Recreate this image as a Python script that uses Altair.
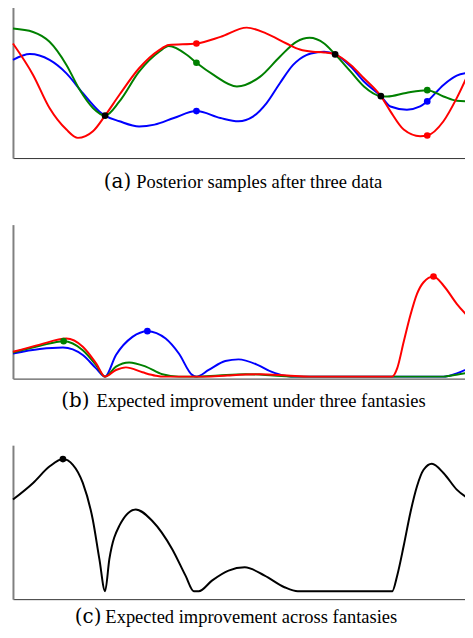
import altair as alt
import pandas as pd

# ---------------- Panel (a): posterior samples after three data ----------------
a_x_blue = [0, 3.7, 8.0, 11.7, 15.3, 18.9, 20.15, 23.3, 27.6, 31.0, 35.2, 40.15, 45.4, 49.35,
            52.6, 55.5, 58.4, 61.3, 64.2, 65.2, 68.1, 70.5, 73.9, 76.8, 80.5, 82.6, 86.2,
            89.1, 90.65, 94.2, 97.1, 100]
a_y_blue = [63.7, 67.5, 63.7, 55.0, 42.1, 30.3, 27.55, 23.9, 20.5, 21.7, 26.0, 30.5, 26.0, 23.9,
            27.1, 35.7, 48.6, 60.5, 66.9, 67.9, 69.0, 67.3, 59.4, 49.7, 40.2, 33.5, 31.4,
            33.5, 36.8, 47.5, 53.5, 55.5]

a_x_green = [0, 4.4, 8.0, 11.7, 14.6, 17.5, 20.15, 23.3, 27.6, 32.0, 34.1, 38.1, 40.15, 43.9,
             49.0, 54.1, 58.4, 62.0, 64.9, 68.1, 70.5, 73.9, 76.8, 80.5, 81.9, 86.0, 90.65,
             94.2, 97.1, 100]
a_y_green = [84.1, 81.9, 75.5, 60.5, 44.3, 32.5, 27.55, 36.8, 56.1, 69.0, 72.7, 66.9, 61.9, 54.0,
             46.5, 52.9, 65.8, 75.5, 78.1, 74.4, 67.3, 56.1, 46.5, 40.2, 40.0, 42.3, 44.1,
             40.0, 37.2, 36.8]

a_x_red = [0, 4.4, 8.0, 11.7, 14.2, 17.5, 20.15, 23.3, 27.6, 32.0, 34.1, 40.15, 45.4, 51.15,
           55.5, 59.85, 62.8, 65.6, 68.1, 70.5, 73.9, 76.8, 80.5, 82.6, 85.5, 89.1, 90.65,
           94.2, 97.1, 100]
a_y_red = [74.4, 54.0, 32.5, 18.5, 13.1, 17.4, 27.55, 41.1, 58.3, 70.1, 73.4, 74.4, 78.7, 84.7,
           80.8, 74.4, 70.5, 69.0, 68.6, 67.3, 60.5, 51.8, 40.2, 30.3, 18.5, 14.2, 14.65,
           23.9, 38.9, 57.2]

a_pts_x = [20.15, 70.5, 80.5, 40.15, 90.65, 40.15, 90.65, 40.15, 90.65]
a_pts_y = [27.55, 67.3, 40.2, 30.5, 36.8, 61.9, 44.1, 74.4, 14.65]
a_pts_s = ["black", "black", "black", "blue", "blue", "green", "green", "red", "red"]

# ---------------- Panel (b): expected improvement under three fantasies ----------------
b_x_blue = [0, 5.87, 10.93, 15.28, 18.19, 20.15, 22.54, 26.15, 29.41, 33.41, 36.3, 39.2, 40.15,
            42.83, 46.46, 49.35, 53.63, 56.52, 59.41, 62.33, 94.2, 97.11, 100]
b_y_blue = [15.0, 17.9, 18.9, 14.0, 5.35, 0, 14.0, 25.8, 29.5, 24.7, 15.0, 1.1, 0,
            4.3, 10.1, 11.2, 7.5, 3.2, 0.6, 0, 0, 2.1, 5.8]

b_x_green = [0, 5.87, 11.09, 15.28, 18.19, 20.15, 22.54, 25.43, 29.07, 32.67, 36.3, 40.15, 45.0,
             50.9, 57.0, 62.0, 94.2, 95.65, 100]
b_y_green = [15.7, 20.0, 23.0, 17.2, 7.5, 0, 6.5, 9.2, 6.5, 1.5, 0, 0, 0.8,
             1.6, 0.8, 0, 0, 0.6, 2.8]

b_x_red = [0, 5.87, 11.67, 15.28, 18.19, 20.15, 22.54, 24.72, 28.33, 31.24, 33.0, 42.0, 47.0,
           54.0, 60.0, 65.0, 82.98, 84.07, 85.5, 86.96, 88.41, 89.85, 92.02, 94.2, 97.11, 100]
b_y_red = [16.1, 20.8, 24.7, 19.4, 8.6, 0, 4.3, 6.0, 2.8, 0.6, 0, 0, 0.8,
           1.5, 0.7, 0, 0, 5.35, 22.6, 39.8, 53.7, 61.3, 65.0, 59.2, 47.3, 37.6]

b_pts_x = [11.09, 29.41, 92.02]
b_pts_y = [23.0, 29.5, 65.0]
b_pts_s = ["green", "blue", "red"]

# ---------------- Panel (c): expected improvement across fantasies ----------------
c_x = [0, 4.41, 8.04, 10.93, 13.11, 15.28, 17.46, 18.91, 20.15, 21.09, 23.26, 26.89, 30.5,
       34.85, 37.76, 39.57, 40.65, 43.54, 47.17, 50.72, 55.07, 59.41, 62.33, 82.98, 84.07,
       85.5, 86.96, 88.41, 89.85, 91.67, 94.2, 97.11, 100]
c_y = [59.5, 70.3, 81.1, 85.8, 82.1, 70.3, 46.6, 20.8, 0, 20.8, 42.4, 53.1, 45.6,
       27.3, 10.1, 0, 0, 6.9, 13.4, 15.5, 10.1, 2.6, 0, 0, 10.1,
       29.5, 51.0, 68.2, 78.9, 82.8, 76.8, 66.0, 59.5]

c_pts_x = [10.93]
c_pts_y = [85.8]
c_pts_s = ["black"]

labels = ["(a)", "(b)", "(c)"]
captions = ["Posterior samples after three data",
            "Expected improvement under three fantasies",
            "Expected improvement across fantasies"]

series_names = ["blue", "green", "red", "black"]
series_colors = ["#0000ff", "#008000", "#ff0000", "#000000"]

PLOT_W = 460


def lines_frame(parts):
    frames = []
    for xs, ys, name in parts:
        frames.append(pd.DataFrame({"x": xs, "y": ys, "s": name}))
    return pd.concat(frames, ignore_index=True)


def panel(lines_df, pts_df, ydom, h, label, caption, lab_x, cap_x, cap_y):
    xsc = alt.Scale(domain=[0, 100], nice=False, zero=False)
    ysc = alt.Scale(domain=ydom, nice=False, zero=False)
    cs = alt.Scale(domain=series_names, range=series_colors)
    xenc = alt.X("x:Q", scale=xsc,
                 axis=alt.Axis(title=None, labels=False, ticks=False, grid=False,
                               domainColor="#333333", domainWidth=1))
    yenc = alt.Y("y:Q", scale=ysc,
                 axis=alt.Axis(title=None, labels=False, ticks=False, grid=False,
                               domainColor="#808080", domainWidth=2))
    lines = alt.Chart(lines_df).mark_line(interpolate="monotone", strokeWidth=2).encode(
        x=xenc, y=yenc, color=alt.Color("s:N", scale=cs, legend=None))
    pts = alt.Chart(pts_df).mark_circle(size=45, opacity=1).encode(
        x=alt.X("x:Q", scale=xsc), y=alt.Y("y:Q", scale=ysc),
        color=alt.Color("s:N", scale=cs, legend=None))
    lab = alt.Chart(pd.DataFrame({"t": [label]})).mark_text(
        font="DejaVu Serif", fontSize=20, align="right", baseline="alphabetic", color="black"
    ).encode(x=alt.value(lab_x), y=alt.value(cap_y), text="t:N")
    cap = alt.Chart(pd.DataFrame({"t": [caption]})).mark_text(
        font="Liberation Serif", fontSize=18.6, align="left", baseline="alphabetic", color="black"
    ).encode(x=alt.value(cap_x), y=alt.value(cap_y), text="t:N")
    return alt.layer(lines, pts, lab, cap).properties(width=PLOT_W, height=h)


la = lines_frame([(a_x_blue, a_y_blue, "blue"), (a_x_green, a_y_green, "green"),
                  (a_x_red, a_y_red, "red")])
pa_df = pd.DataFrame({"x": a_pts_x, "y": a_pts_y, "s": a_pts_s})
lb = lines_frame([(b_x_blue, b_y_blue, "blue"), (b_x_green, b_y_green, "green"),
                  (b_x_red, b_y_red, "red")])
pb_df = pd.DataFrame({"x": b_pts_x, "y": b_pts_y, "s": b_pts_s})
lc = lines_frame([(c_x, c_y, "black")])
pc_df = pd.DataFrame({"x": c_pts_x, "y": c_pts_y, "s": c_pts_s})

pa = panel(la, pa_df, [0, 100], 155, labels[0], captions[0], 119, 124, 184.7)
pb = panel(lb, pb_df, [-1.29, 98.71], 155, labels[1], captions[1], 77, 84, 184)
pc = panel(lc, pc_df, [-5.16, 94.84], 155, labels[2], captions[2], 89, 93, 179)

chart = alt.vconcat(pa, pb, pc, spacing=67, bounds="flush").properties(
    padding={"left": 1, "top": -6, "right": -9, "bottom": 0}
).configure_view(strokeWidth=0)

chart.save("out.html", embed_options={"renderer": "svg", "actions": False})
